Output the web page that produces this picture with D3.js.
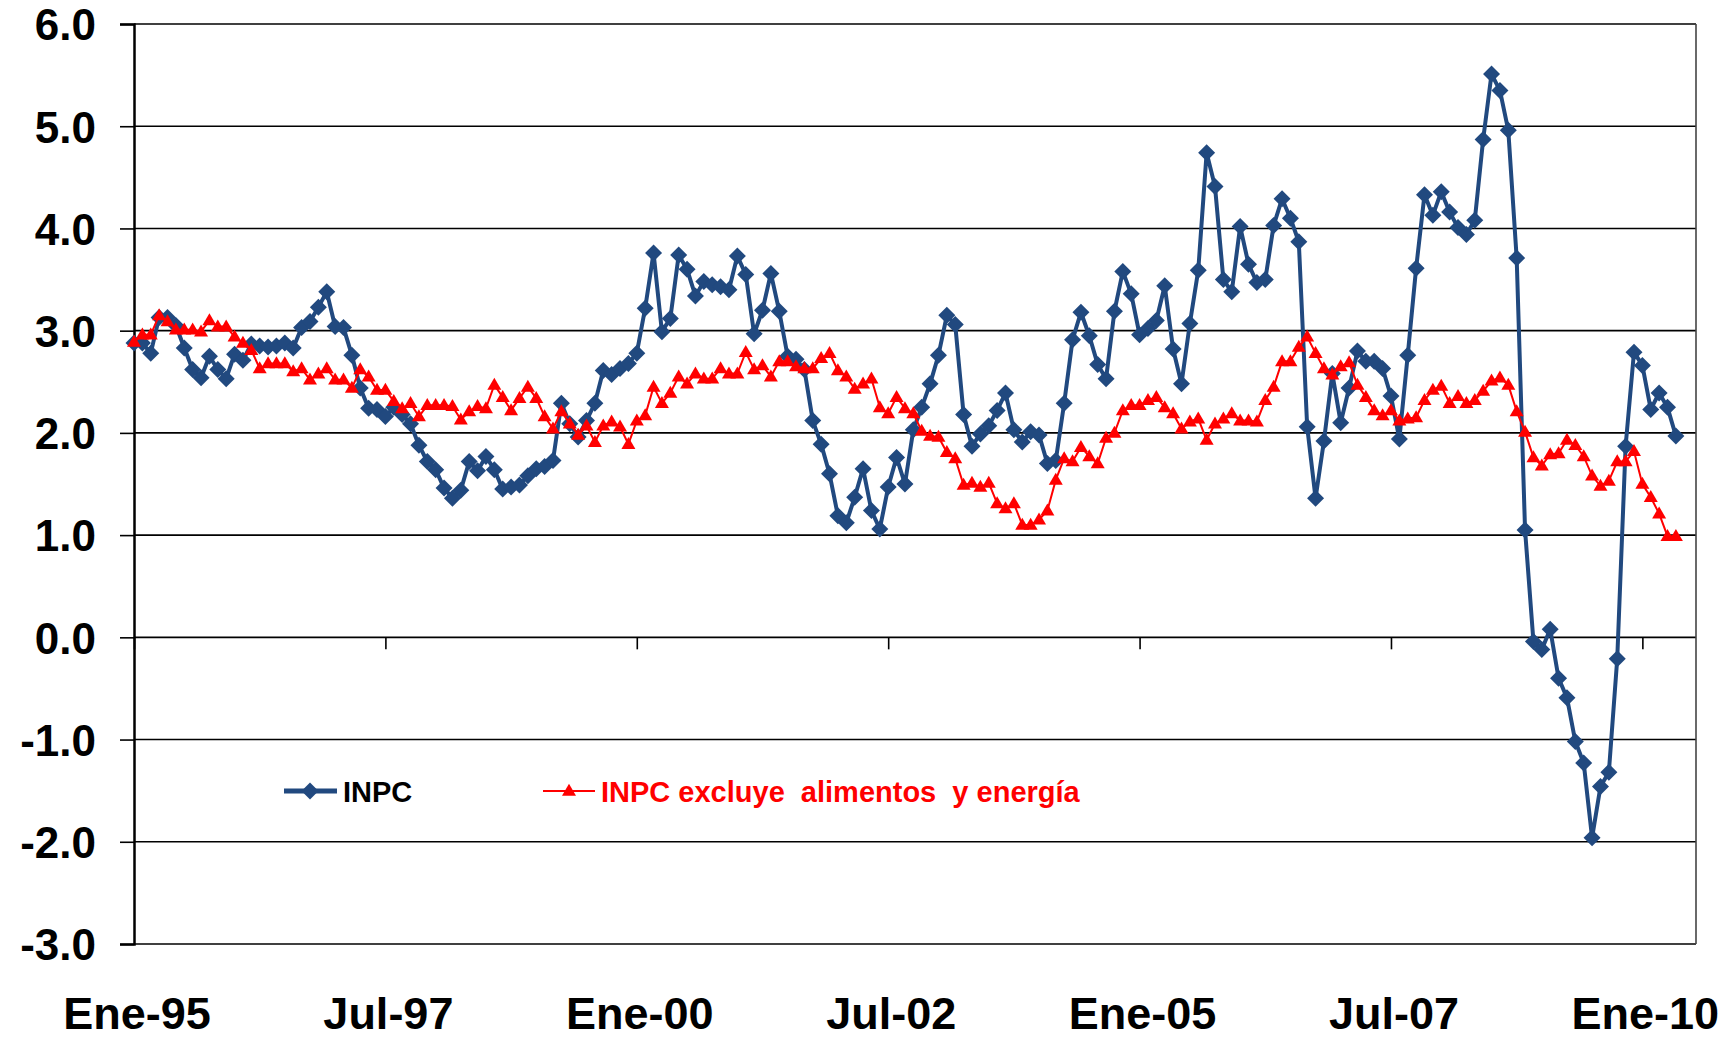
<!DOCTYPE html>
<html lang="es">
<head>
<meta charset="UTF-8">
<title>INPC vs INPC subyacente</title>
<script src="https://d3js.org/d3.v7.min.js"></script>
<style>
  body { margin: 0; padding: 0; background: #fff; }
  svg { display: block; font-family: "Liberation Sans", Arial, sans-serif; font-weight: bold; }
</style>
</head>
<body>
<div id="chart"></div>
<script>
// monthly values, Ene-95 .. May-10
const inpc = [
  2.88, 2.88, 2.78, 3.13, 3.13, 3.05, 2.83, 2.62, 2.54, 2.75, 2.62, 2.53,
  2.77, 2.71, 2.87, 2.85, 2.84, 2.85, 2.88, 2.83, 3.03, 3.09, 3.23, 3.38,
  3.04, 3.03, 2.76, 2.44, 2.24, 2.23, 2.16, 2.25, 2.18, 2.09, 1.88, 1.72,
  1.64, 1.46, 1.36, 1.44, 1.72, 1.63, 1.77, 1.64, 1.45, 1.47, 1.49, 1.58,
  1.65, 1.67, 1.73, 2.29, 2.09, 1.96, 2.12, 2.29, 2.61, 2.57, 2.63, 2.68,
  2.78, 3.22, 3.76, 2.99, 3.12, 3.74, 3.60, 3.34, 3.48, 3.45, 3.43, 3.40,
  3.73, 3.55, 2.97, 3.20, 3.56, 3.19, 2.75, 2.72, 2.62, 2.12, 1.89, 1.60,
  1.19, 1.12, 1.37, 1.65, 1.24, 1.06, 1.47, 1.76, 1.50, 2.03, 2.25, 2.48,
  2.76, 3.15, 3.06, 2.18, 1.87, 1.99, 2.07, 2.22, 2.39, 2.03, 1.91, 2.01,
  1.98, 1.70, 1.73, 2.29, 2.91, 3.18, 2.95, 2.67, 2.53, 3.19, 3.58, 3.36,
  2.96, 3.02, 3.10, 3.44, 2.82, 2.48, 3.07, 3.59, 4.74, 4.41, 3.50, 3.38,
  4.02, 3.65, 3.47, 3.50, 4.03, 4.29, 4.10, 3.87, 2.06, 1.36, 1.92, 2.58,
  2.10, 2.44, 2.80, 2.70, 2.70, 2.63, 2.36, 1.94, 2.76, 3.61, 4.33, 4.13,
  4.36, 4.16, 4.01, 3.94, 4.08, 4.87, 5.51, 5.35, 4.96, 3.71, 1.05, -0.04,
  -0.12, 0.08, -0.40, -0.59, -1.02, -1.23, -1.96, -1.46, -1.32, -0.21, 1.87, 2.79,
  2.66, 2.23, 2.39, 2.25, 1.97
];

const subyacente = [
  2.89, 2.96, 2.96, 3.15, 3.09, 3.01, 3.01, 3.01, 2.99, 3.10, 3.04, 3.04,
  2.94, 2.88, 2.81, 2.63, 2.68, 2.68, 2.68, 2.60, 2.63, 2.52, 2.58, 2.63,
  2.52, 2.52, 2.44, 2.62, 2.55, 2.42, 2.42, 2.31, 2.24, 2.29, 2.16, 2.27,
  2.27, 2.27, 2.26, 2.13, 2.21, 2.26, 2.24, 2.47, 2.35, 2.22, 2.34, 2.45,
  2.34, 2.16, 2.04, 2.21, 2.09, 1.98, 2.07, 1.91, 2.07, 2.11, 2.06, 1.89,
  2.12, 2.17, 2.45, 2.29, 2.39, 2.55, 2.48, 2.58, 2.53, 2.53, 2.63, 2.58,
  2.58, 2.79, 2.62, 2.66, 2.55, 2.70, 2.70, 2.65, 2.63, 2.63, 2.73, 2.78,
  2.61, 2.55, 2.43, 2.48, 2.53, 2.25, 2.19, 2.35, 2.24, 2.19, 2.02, 1.97,
  1.96, 1.81, 1.75, 1.49, 1.51, 1.47, 1.51, 1.31, 1.26, 1.31, 1.10, 1.10,
  1.15, 1.24, 1.54, 1.75, 1.72, 1.86, 1.77, 1.70, 1.95, 2.00, 2.22, 2.27,
  2.27, 2.32, 2.35, 2.25, 2.19, 2.04, 2.11, 2.14, 1.93, 2.09, 2.14, 2.19,
  2.12, 2.12, 2.11, 2.32, 2.45, 2.70, 2.70, 2.84, 2.94, 2.78, 2.63, 2.57,
  2.65, 2.69, 2.47, 2.35, 2.22, 2.17, 2.22, 2.12, 2.14, 2.15, 2.32, 2.42,
  2.46, 2.29, 2.36, 2.29, 2.32, 2.41, 2.51, 2.54, 2.47, 2.21, 2.01, 1.76,
  1.68, 1.79, 1.80, 1.93, 1.88, 1.77, 1.58, 1.48, 1.53, 1.72, 1.72, 1.82,
  1.50, 1.37, 1.21, 0.99, 0.99
];

const xLabels = ["Ene-95", "Jul-97", "Ene-00", "Jul-02", "Ene-05", "Jul-07", "Ene-10"];
const xLabelMonths = [0, 30, 60, 90, 120, 150, 180];
const yTicks = [-3, -2, -1, 0, 1, 2, 3, 4, 5, 6];

const seriesNames = ["INPC", "INPC excluye  alimentos  y energía"];

const W = 1727, H = 1038;
const plotLeft = 134, plotRight = 1696, plotTop = 24, plotBottom = 944;
const blue = "#21497f", red = "#ff0000";

const svg = d3.select("#chart").append("svg")
  .attr("width", W).attr("height", H);

const x = d3.scaleLinear().domain([0, 186.4]).range([plotLeft, plotRight]);
const y = d3.scaleLinear().domain([-3, 6]).range([plotBottom, plotTop]);

// gridlines
svg.append("g").selectAll("line")
  .data(yTicks)
  .join("line")
  .attr("x1", plotLeft).attr("x2", plotRight)
  .attr("y1", d => y(d)).attr("y2", d => y(d))
  .attr("stroke", "#000").attr("stroke-width", 1.6);

// right border
svg.append("line")
  .attr("x1", plotRight).attr("x2", plotRight).attr("y1", plotTop).attr("y2", plotBottom)
  .attr("stroke", "#444").attr("stroke-width", 1.6);

// y axis
const yAxis = svg.append("g")
  .attr("transform", `translate(${plotLeft},0)`)
  .call(d3.axisLeft(y).tickValues(yTicks).tickSize(14).tickPadding(24)
    .tickFormat(d => d.toFixed(1)));
yAxis.select(".domain").attr("stroke", "#000").attr("stroke-width", 2.5);
yAxis.selectAll(".tick line").attr("stroke", "#000").attr("stroke-width", 1.6);
yAxis.selectAll("text")
  .attr("fill", "#000")
  .style("font-size", "44px")
  .style("font-weight", "bold")
  .attr("dy", "0.36em");

// x axis ticks on the zero line
const xAxis = svg.append("g")
  .attr("transform", `translate(0,${y(0)})`)
  .call(d3.axisBottom(x).tickValues(xLabelMonths).tickSize(12).tickFormat(""));
xAxis.select(".domain").remove();
xAxis.selectAll(".tick line").attr("stroke", "#000").attr("stroke-width", 1.6);

// x labels at the bottom
svg.append("g").selectAll("text")
  .data(xLabels)
  .join("text")
  .attr("x", (d, i) => x(xLabelMonths[i]) + 3)
  .attr("y", 1029)
  .attr("text-anchor", "middle")
  .style("font-size", "45px")
  .attr("fill", "#000")
  .text(d => d);

const line = d3.line()
  .x((d, i) => x(i))
  .y(d => y(d));

const diamond = s => `M0,${-s}L${s},0L0,${s}L${-s},0Z`;
const triangle = (w, h) => `M0,${-h * 0.6}L${w / 2},${h * 0.4}L${-w / 2},${h * 0.4}Z`;

// INPC
svg.append("path")
  .datum(inpc)
  .attr("d", line)
  .attr("fill", "none")
  .attr("stroke", blue)
  .attr("stroke-width", 4)
  .attr("stroke-linejoin", "round");

svg.append("g").selectAll("path")
  .data(inpc)
  .join("path")
  .attr("transform", (d, i) => `translate(${x(i)},${y(d)})`)
  .attr("d", diamond(8.5))
  .attr("fill", blue);

// INPC excluye alimentos y energia
svg.append("path")
  .datum(subyacente)
  .attr("d", line)
  .attr("fill", "none")
  .attr("stroke", red)
  .attr("stroke-width", 2);

svg.append("g").selectAll("path")
  .data(subyacente)
  .join("path")
  .attr("transform", (d, i) => `translate(${x(i)},${y(d)})`)
  .attr("d", triangle(14, 12))
  .attr("fill", red);

// legend
const legend = svg.append("g");
const lg1 = legend.append("g");
lg1.append("line").attr("x1", 284).attr("x2", 337).attr("y1", 791).attr("y2", 791)
  .attr("stroke", blue).attr("stroke-width", 5);
lg1.append("path").attr("transform", "translate(310,791)").attr("d", diamond(8.5)).attr("fill", blue);
lg1.append("text").attr("x", 343).attr("y", 802).style("font-size", "29px")
  .attr("fill", "#000").text(seriesNames[0]);

const lg2 = legend.append("g");
lg2.append("line").attr("x1", 543).attr("x2", 595).attr("y1", 791).attr("y2", 791)
  .attr("stroke", red).attr("stroke-width", 2);
lg2.append("path").attr("transform", "translate(569,791)").attr("d", triangle(14, 12)).attr("fill", red);
lg2.append("text").attr("x", 601).attr("y", 802).style("font-size", "29px")
  .style("white-space", "pre")
  .attr("fill", red).text(seriesNames[1]);
</script>
</body>
</html>
